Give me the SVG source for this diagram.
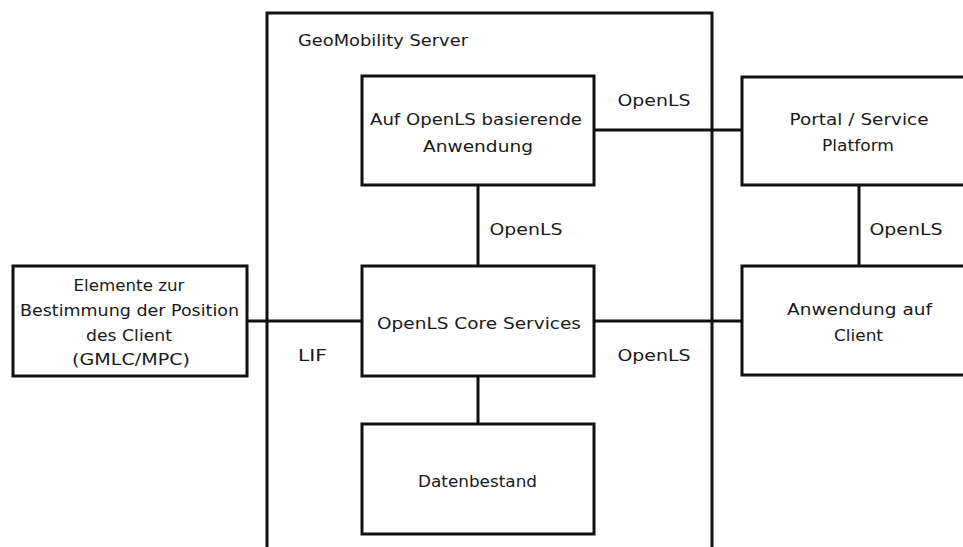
<svg xmlns="http://www.w3.org/2000/svg" width="963" height="547" viewBox="0 0 963 547">
  <style>
    .box { fill: #ffffff; stroke: #111111; stroke-width: 3; }
    .frame { fill: none; stroke: #111111; stroke-width: 3; }
    .wire { stroke: #111111; stroke-width: 3; fill: none; }
    text { font-family: "DejaVu Sans", Verdana, sans-serif; font-size: 15px; fill: #1a1a1a; }
    .c { text-anchor: middle; }
  </style>
  <rect width="963" height="547" fill="#ffffff"/>

  <!-- server frame -->
  <g id="geomobility-server">
    <rect class="frame" x="267" y="13" width="445" height="560"/>
    <text x="298" y="46" textLength="170" lengthAdjust="spacingAndGlyphs">GeoMobility Server</text>
  </g>

  <!-- connectors -->
  <g id="connectors">
    <line class="wire" x1="247" y1="321" x2="362" y2="321"/>
    <line class="wire" x1="594" y1="321" x2="742" y2="321"/>
    <line class="wire" x1="594" y1="130" x2="742" y2="130"/>
    <line class="wire" x1="478" y1="185" x2="478" y2="266"/>
    <line class="wire" x1="478" y1="376" x2="478" y2="424"/>
    <line class="wire" x1="859" y1="185" x2="859" y2="266"/>
    <text x="654" y="106" class="c" textLength="73" lengthAdjust="spacingAndGlyphs">OpenLS</text>
    <text x="526" y="235" class="c" textLength="73" lengthAdjust="spacingAndGlyphs">OpenLS</text>
    <text x="906" y="235" class="c" textLength="73" lengthAdjust="spacingAndGlyphs">OpenLS</text>
    <text x="654" y="361" class="c" textLength="73" lengthAdjust="spacingAndGlyphs">OpenLS</text>
    <text x="312.5" y="361" class="c" textLength="29" lengthAdjust="spacingAndGlyphs">LIF</text>
  </g>

  <g id="positioning">
    <rect class="box" x="13" y="266" width="234" height="110"/>
    <text x="129" y="291" class="c" textLength="111" lengthAdjust="spacingAndGlyphs">Elemente zur</text>
    <text x="129.5" y="316" class="c" textLength="219" lengthAdjust="spacingAndGlyphs">Bestimmung der Position</text>
    <text x="129" y="341" class="c" textLength="86" lengthAdjust="spacingAndGlyphs">des Client</text>
    <text x="131" y="365" class="c" textLength="118" lengthAdjust="spacingAndGlyphs">(GMLC/MPC)</text>
  </g>

  <g id="openls-app">
    <rect class="box" x="362" y="76" width="232" height="109"/>
    <text x="476" y="125" class="c" textLength="212" lengthAdjust="spacingAndGlyphs">Auf OpenLS basierende</text>
    <text x="478" y="152" class="c" textLength="110" lengthAdjust="spacingAndGlyphs">Anwendung</text>
  </g>

  <g id="core-services">
    <rect class="box" x="362" y="266" width="232" height="110"/>
    <text x="479" y="329" class="c" textLength="204" lengthAdjust="spacingAndGlyphs">OpenLS Core Services</text>
  </g>

  <g id="data">
    <rect class="box" x="362" y="424" width="232" height="110"/>
    <text x="477.5" y="487" class="c" textLength="119" lengthAdjust="spacingAndGlyphs">Datenbestand</text>
  </g>

  <g id="portal">
    <rect class="box" x="742" y="77" width="240" height="108"/>
    <text x="859" y="125" class="c" textLength="139" lengthAdjust="spacingAndGlyphs">Portal / Service</text>
    <text x="858" y="151" class="c" textLength="72" lengthAdjust="spacingAndGlyphs">Platform</text>
  </g>

  <g id="client-app">
    <rect class="box" x="742" y="266" width="240" height="109"/>
    <text x="859.5" y="315" class="c" textLength="145" lengthAdjust="spacingAndGlyphs">Anwendung auf</text>
    <text x="858.5" y="341" class="c" textLength="49" lengthAdjust="spacingAndGlyphs">Client</text>
  </g>
</svg>
